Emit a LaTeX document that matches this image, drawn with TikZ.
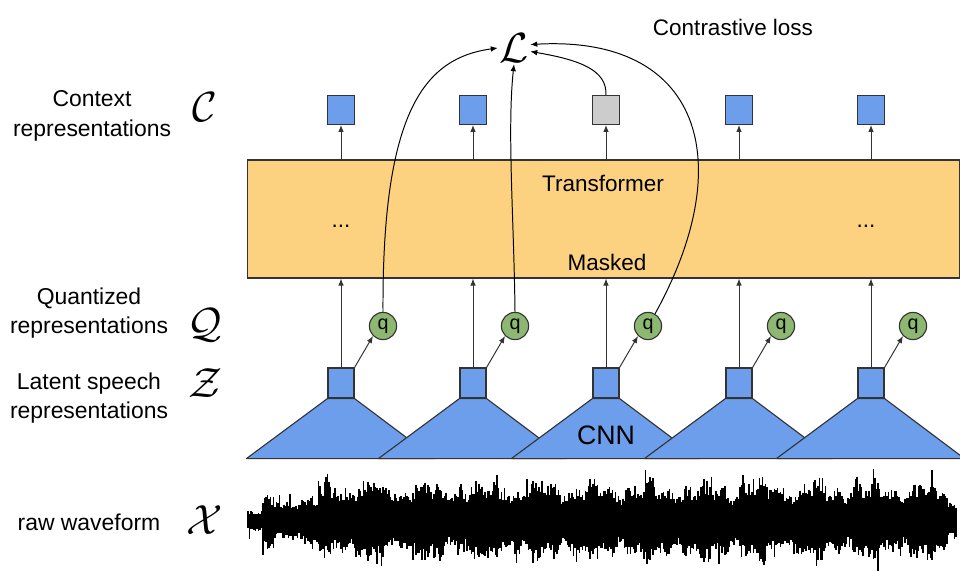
\RequirePackage{fix-cm}
\documentclass[tikz,border=0pt]{standalone}
\usepackage{fontspec}
\setmainfont{Liberation Sans}
\usepackage{tikz}
\usetikzlibrary{arrows.meta,positioning,calc}
\definecolor{vecblue}{HTML}{6D9EEB}
\definecolor{maskgray}{HTML}{CCCCCC}
\definecolor{quantgreen}{HTML}{8DB872}
\definecolor{tfyellow}{HTML}{FCD280}
\definecolor{edge}{HTML}{333333}
\tikzset{
  tfblock/.style = {draw=edge,line width=0.8pt,fill=tfyellow,inner sep=0pt,
                    minimum width=17.775cm,minimum height=2.95cm},
  ctx/.style     = {draw=edge,line width=0.8pt,fill=vecblue,inner sep=0pt,
                    minimum width=0.67cm,minimum height=0.72cm},
  latent/.style  = {ctx,minimum width=0.65cm,minimum height=0.75cm},
  quant/.style   = {circle,draw=edge,line width=0.8pt,fill=quantgreen,inner sep=0pt,
                    minimum size=0.68cm,font=\fontsize{14}{14}\selectfont},
  cnn/.style     = {draw=edge,line width=0.8pt,fill=vecblue,line join=round},
  lbl/.style     = {align=center,font=\fontsize{16.3}{21}\selectfont},
  sym/.style     = {inner sep=1pt,font=\fontsize{30}{30}\selectfont},
  arr/.style     = {-{Latex[length=5pt,width=4pt]},line width=0.7pt,draw=edge},
  lossarr/.style = {arr,draw=black},
  wave/.style    = {line width=1.3pt,black},
}

\begin{document}
\begin{tikzpicture}[x=0.025cm,y=-0.025cm,font=\fontsize{16}{20}\selectfont]
  \useasboundingbox (0,0) rectangle (960,572);
  \clip (0,0) rectangle (960,572);

  % transformer
  \node[tfblock] (tf) at (603.5,219) {};
  \node (tfname) at (603,183) {Transformer};
  \node (tfmask) at (607,262) {Masked};
  \node (dots1) at (341,226) {...};
  \node (dots2) at (866,226) {...};

  % columns: latent z, quantizer q, cnn encoder, context c
  \foreach \i/\cx in {1/341,2/473,3/606,4/739,5/871}{
    \node[latent] (z\i) at (\cx,383) {};
    \node[quant] (q\i) at ({\cx+42},326) {q};
    \path[cnn] (z\i.south west) -- ++(-81,60) -- ++(188,0) -- (z\i.south east) -- cycle;
    \draw[arr] (z\i.north) -- (z\i.north |- tf.south);
    \draw[arr] (z\i.north east) -- (q\i.225);
  }
  \node (cnnname) at (606,435) {\fontsize{19}{19}\selectfont CNN};

  \foreach \i/\cx in {1/341,2/473,4/739,5/871}
    \node[ctx] (c\i) at (\cx,110) {};
  \node[ctx,fill=maskgray] (c3) at (606,110) {};
  \foreach \i in {1,...,5}
    \draw[arr] (c\i.south |- tf.north) -- (c\i.south);

  % contrastive loss
  \node[sym] (loss) at (514,48) {$\mathcal{L}$};
  \node (lossname) at (733,27) {Contrastive loss};
  \draw[lossarr] (q1.north) .. controls (382,110) and (425,58) .. (loss.west);
  \draw[lossarr] (q2.north) .. controls (514,220) and (507,130) .. (loss.south);
  \draw[lossarr] (c3.north) .. controls (607,70) and (580,60) .. (loss.-12);
  \draw[lossarr] (q3.60) .. controls (740,160) and (700,35) .. (loss.12);

  % row labels
  \node[lbl] (lblc) at (92,116) {Context\\representations};
  \node[lbl] (lblq) at (89,313) {Quantized\\representations};
  \node[lbl] (lblz) at (89,398) {Latent speech\\representations};
  \node[lbl] (lblx) at (89,522) {raw waveform};
  \node[sym] (symc) at (205,107) {$\mathcal{C}$};
  \node[sym] (symq) at (205,325) {$\mathcal{Q}$};
  \node[sym] (symz) at (205,383) {$\mathcal{Z}$};
  \node[sym] (symx) at (205,520) {$\mathcal{X}$};

  % raw waveform
  \pgfmathsetseed{7}
  \foreach \x in {248,249.5,...,956}{
    \pgfmathsetmacro\env{ifthenelse(\x<263,12,ifthenelse(\x<318,29,ifthenelse(\x>947,24,44)))
      *(0.8+0.12*sin((\x-248)*6.5)+0.1*sin((\x-248)*19+40))}
    \pgfmathsetmacro\up{\env*(0.6+0.4*rnd)+9*(rnd>0.94)}
    \pgfmathsetmacro\dn{\env*(0.6+0.4*rnd)+9*(rnd>0.94)}
    \draw[wave] (\x,{521-\up}) -- (\x,{521+\dn});
  }
\end{tikzpicture}
\end{document}
